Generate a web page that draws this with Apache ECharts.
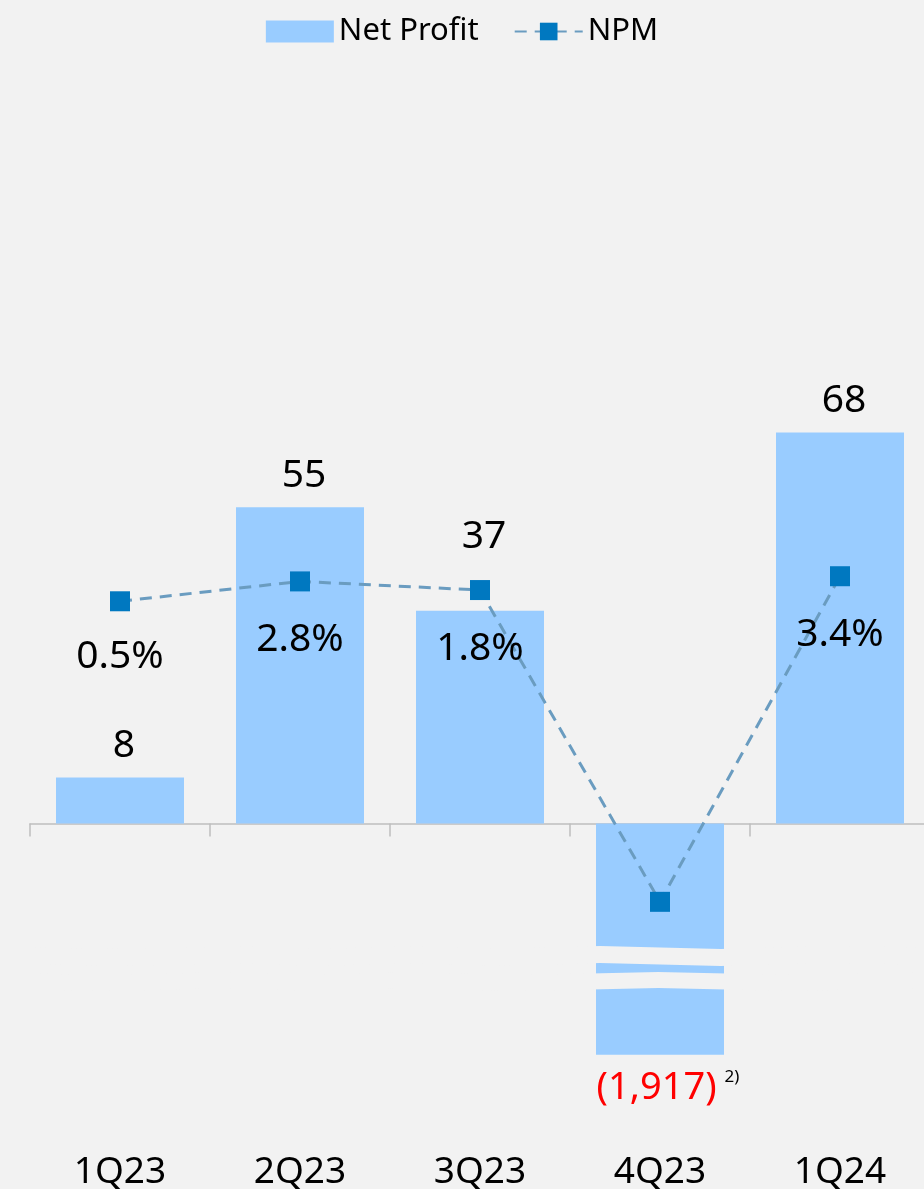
<!DOCTYPE html>
<html><head><meta charset="utf-8">
<script src="https://cdn.jsdelivr.net/npm/echarts@6.0.0/dist/echarts.min.js"></script>
<style>html,body{margin:0;padding:0;background:#f2f2f2;} #c{width:924px;height:1189px;}</style>
</head><body><div id="c"></div>
<script>
const categories = ['1Q23', '2Q23', '3Q23', '4Q23', '1Q24'];
const netProfit = [8, 55, 37, -1917, 68];
const npm = [0.5, 2.8, 1.8, -34.3, 3.4];
const footnote = '2)';

const FONT = 'Noto Sans';
function fmtProfit(v) {
  const s = Math.abs(v).toLocaleString('en-US');
  return v < 0 ? '{neg|(' + s + ')}{sup|' + footnote + '}' : s;
}

const barData = netProfit.map((v, i) => {
  const d = { value: v };
  if (i === 2) d.label = { distance: 54 };
  if (v < 0) d.label = { position: 'bottom', distance: 14, offset: [8, 0] };
  return d;
});
const lineData = npm.map((v, i) => {
  const d = { value: v };
  if (i === 0) d.label = { distance: 26 };
  if (v < 0) d.label = { show: false };
  return d;
});

const chart = echarts.init(document.getElementById('c'));
chart.setOption({
  animation: false,
  backgroundColor: '#f2f2f2',
  textStyle: { fontFamily: FONT },
  legend: {
    top: 11, left: 'center', itemWidth: 68, itemHeight: 22, itemGap: 35,
    textStyle: { fontSize: 31, color: '#000', fontFamily: FONT },
    data: [{ name: 'Net Profit', icon: 'rect' }, { name: 'NPM' }]
  },
  grid: { left: 30, right: -6, top: 18.3, bottom: 134.3, outerBoundsMode: 'none' },
  xAxis: [
    {
      type: 'category', data: categories, position: 'bottom', boundaryGap: true,
      axisLine: { show: true, onZero: true, onZeroAxisIndex: 0, lineStyle: { color: '#bfbfbf', width: 1.5 } },
      axisTick: { show: true, length: 13, lineStyle: { color: '#bfbfbf', width: 1.5 } },
      axisLabel: { show: false }, splitLine: { show: false }
    },
    {
      type: 'category', data: categories, position: 'bottom', boundaryGap: true,
      axisLine: { show: false, onZero: false }, axisTick: { show: false }, splitLine: { show: false },
      axisLabel: { margin: 99, fontSize: 37, color: '#000', fontFamily: FONT }
    }
  ],
  yAxis: [
    {
      type: 'value', min: -1917, max: 140,
      axisLine: { show: false }, axisTick: { show: false }, axisLabel: { show: false }, splitLine: { show: false },
      breaks: [
        { start: -1000, end: -21.6, gap: 2.8 },
        { start: -1905.7, end: -1001.7, gap: 2.8 }
      ],
      breakArea: {
        show: true,
        itemStyle: { color: '#f2f2f2', borderColor: '#f2f2f2', borderWidth: 0, opacity: 1 },
        zigzagAmplitude: 1.5, zigzagMinSpan: 70, zigzagMaxSpan: 140, zigzagZ: 100, expandOnClick: false
      }
    },
    { type: 'value', min: -52, max: 68, show: false }
  ],
  series: [
    {
      name: 'Net Profit', type: 'bar', xAxisIndex: 0, yAxisIndex: 0, barWidth: 128,
      itemStyle: { color: '#99ccff' },
      data: barData,
      label: {
        show: true, position: 'top', distance: 12, offset: [4, 0],
        fontSize: 39, color: '#000', fontFamily: FONT,
        formatter: p => fmtProfit(p.value),
        rich: {
          neg: { fontSize: 38, color: '#ff0000', fontFamily: FONT },
          sup: { fontSize: 17, color: '#000', fontFamily: FONT, padding: [0, 0, 22, 8] }
        }
      }
    },
    {
      name: 'NPM', type: 'line', xAxisIndex: 0, yAxisIndex: 1, z: 5,
      symbol: 'rect', symbolSize: 20,
      itemStyle: { color: '#0078c0' },
      lineStyle: { color: '#6a9cc0', width: 3, type: [12, 8] },
      data: lineData,
      label: {
        show: true, position: 'bottom', distance: 29,
        fontSize: 39, color: '#000', fontFamily: FONT,
        formatter: p => p.value.toFixed(1) + '%'
      }
    }
  ]
});
</script>
</body></html>
